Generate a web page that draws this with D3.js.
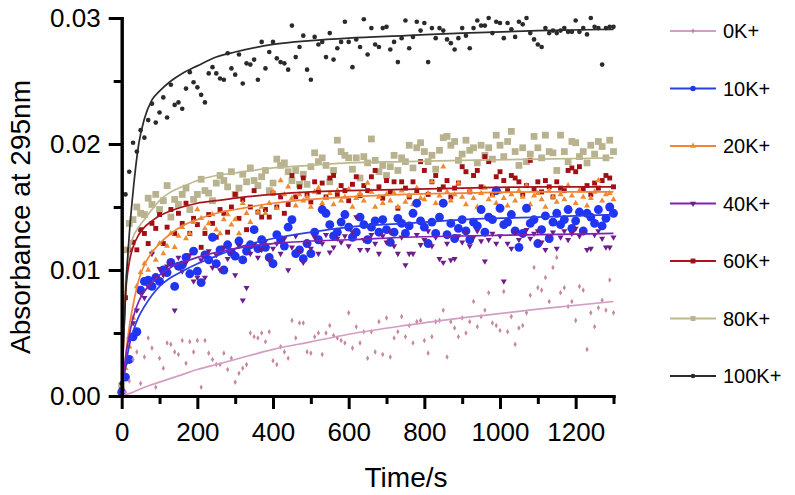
<!DOCTYPE html>
<html>
<head>
<meta charset="utf-8">
<script src="https://cdn.jsdelivr.net/npm/d3@7"></script>
<style>
  body { margin: 0; background: #fff; }
  text { font-family: "Liberation Sans", Arial, sans-serif; fill: #000; }
</style>
</head>
<body>
<svg id="chart" width="795" height="495"></svg>
<script>
// sampling times (s)
var times = [
  0, 10, 20, 30, 40, 50, 60, 70, 80, 90,
  100, 110, 120, 130, 140, 150, 160, 170, 180, 190,
  200, 210, 220, 230, 240, 250, 260, 270, 280, 290,
  300, 310, 320, 330, 340, 350, 360, 370, 380, 390,
  400, 410, 420, 430, 440, 450, 460, 470, 480, 490,
  500, 510, 520, 530, 540, 550, 560, 570, 580, 590,
  600, 610, 620, 630, 640, 650, 660, 670, 680, 690,
  700, 710, 720, 730, 740, 750, 760, 770, 780, 790,
  800, 810, 820, 830, 840, 850, 860, 870, 880, 890,
  900, 910, 920, 930, 940, 950, 960, 970, 980, 990,
  1000, 1010, 1020, 1030, 1040, 1050, 1060, 1070, 1080, 1090,
  1100, 1110, 1120, 1130, 1140, 1150, 1160, 1170, 1180, 1190,
  1200, 1210, 1220, 1230, 1240, 1250, 1260, 1270, 1280, 1290,
  1300
];

var abs0K = [
  0.0000, 0.0003, 0.0012, 0.0029, 0.0035, 0.0010, 0.0031, 0.0046, 0.0038, 0.0007,
  0.0030, 0.0022, 0.0042, 0.0041, 0.0035, 0.0033, 0.0044, 0.0026, 0.0043, 0.0035,
  0.0044, 0.0007, 0.0044, 0.0034, 0.0029, 0.0025, 0.0025, 0.0034, 0.0021, 0.0030,
  0.0011, 0.0018, 0.0022, 0.0025, 0.0050, 0.0047, 0.0046, 0.0050, 0.0043, 0.0051,
  0.0028, 0.0025, 0.0039, 0.0035, 0.0030, 0.0060, 0.0046, 0.0058, 0.0058, 0.0035,
  0.0034, 0.0047, 0.0050, 0.0033, 0.0050, 0.0056, 0.0048, 0.0046, 0.0044, 0.0042,
  0.0066, 0.0038, 0.0055, 0.0042, 0.0051, 0.0030, 0.0051, 0.0035, 0.0059, 0.0033,
  0.0062, 0.0031, 0.0046, 0.0051, 0.0063, 0.0047, 0.0056, 0.0042, 0.0059, 0.0060,
  0.0044, 0.0034, 0.0047, 0.0059, 0.0060, 0.0068, 0.0031, 0.0059, 0.0054, 0.0047,
  0.0062, 0.0050, 0.0059, 0.0075, 0.0055, 0.0063, 0.0068, 0.0082, 0.0058, 0.0056,
  0.0052, 0.0083, 0.0051, 0.0063, 0.0041, 0.0054, 0.0056, 0.0066, 0.0080, 0.0102,
  0.0086, 0.0084, 0.0094, 0.0075, 0.0102, 0.0110, 0.0082, 0.0086, 0.0071, 0.0075,
  0.0060, 0.0087, 0.0084, 0.0037, 0.0066, 0.0055, 0.0070, 0.0076, 0.0068, 0.0092,
  0.0066
];

var abs10K = [
  0.0003, 0.0015, 0.0029, 0.0047, 0.0051, 0.0084, 0.0091, 0.0092, 0.0087, 0.0094,
  0.0091, 0.0100, 0.0098, 0.0106, 0.0087, 0.0103, 0.0104, 0.0110, 0.0097, 0.0115,
  0.0099, 0.0090, 0.0112, 0.0108, 0.0126, 0.0105, 0.0116, 0.0100, 0.0120, 0.0114,
  0.0111, 0.0123, 0.0108, 0.0115, 0.0120, 0.0132, 0.0117, 0.0124, 0.0118, 0.0110,
  0.0105, 0.0128, 0.0124, 0.0119, 0.0134, 0.0140, 0.0113, 0.0116, 0.0109, 0.0121,
  0.0113, 0.0130, 0.0124, 0.0148, 0.0145, 0.0136, 0.0127, 0.0130, 0.0138, 0.0144,
  0.0134, 0.0126, 0.0130, 0.0142, 0.0136, 0.0124, 0.0134, 0.0139, 0.0130, 0.0140,
  0.0132, 0.0122, 0.0130, 0.0141, 0.0137, 0.0129, 0.0135, 0.0145, 0.0153, 0.0139,
  0.0134, 0.0121, 0.0138, 0.0129, 0.0142, 0.0153, 0.0128, 0.0137, 0.0125, 0.0133,
  0.0140, 0.0131, 0.0124, 0.0138, 0.0135, 0.0148, 0.0130, 0.0142, 0.0140, 0.0163,
  0.0149, 0.0136, 0.0138, 0.0144, 0.0131, 0.0118, 0.0129, 0.0149, 0.0137, 0.0140,
  0.0121, 0.0132, 0.0143, 0.0125, 0.0138, 0.0145, 0.0136, 0.0140, 0.0148, 0.0133,
  0.0139, 0.0146, 0.0131, 0.0145, 0.0142, 0.0137, 0.0148, 0.0135, 0.0141, 0.0150,
  0.0145
];

var abs20K = [
  0.0002, 0.0022, 0.0039, 0.0062, 0.0087, 0.0098, 0.0105, 0.0100, 0.0114, 0.0108,
  0.0121, 0.0113, 0.0119, 0.0129, 0.0118, 0.0127, 0.0134, 0.0125, 0.0129, 0.0138,
  0.0148, 0.0141, 0.0133, 0.0137, 0.0144, 0.0132, 0.0129, 0.0140, 0.0144, 0.0136,
  0.0140, 0.0129, 0.0153, 0.0145, 0.0138, 0.0132, 0.0146, 0.0150, 0.0145, 0.0153,
  0.0162, 0.0149, 0.0171, 0.0160, 0.0166, 0.0157, 0.0151, 0.0160, 0.0155, 0.0158,
  0.0150, 0.0162, 0.0165, 0.0153, 0.0157, 0.0161, 0.0152, 0.0163, 0.0155, 0.0158,
  0.0164, 0.0150, 0.0157, 0.0161, 0.0155, 0.0169, 0.0162, 0.0150, 0.0158, 0.0153,
  0.0160, 0.0155, 0.0161, 0.0150, 0.0163, 0.0154, 0.0159, 0.0152, 0.0165, 0.0157,
  0.0156, 0.0161, 0.0170, 0.0153, 0.0159, 0.0182, 0.0162, 0.0155, 0.0160, 0.0169,
  0.0158, 0.0152, 0.0163, 0.0157, 0.0150, 0.0161, 0.0165, 0.0156, 0.0159, 0.0153,
  0.0162, 0.0157, 0.0151, 0.0160, 0.0155, 0.0163, 0.0158, 0.0167, 0.0152, 0.0159,
  0.0161, 0.0156, 0.0150, 0.0163, 0.0158, 0.0154, 0.0160, 0.0156, 0.0167, 0.0159,
  0.0153, 0.0163, 0.0158, 0.0151, 0.0157, 0.0162, 0.0171, 0.0155, 0.0160, 0.0161,
  0.0156
];

var abs40K = [
  0.0002, 0.0025, 0.0045, 0.0058, 0.0068, 0.0082, 0.0078, 0.0087, 0.0113, 0.0094,
  0.0101, 0.0096, 0.0103, 0.0106, 0.0068, 0.0110, 0.0099, 0.0106, 0.0112, 0.0091,
  0.0094, 0.0108, 0.0094, 0.0115, 0.0102, 0.0112, 0.0100, 0.0118, 0.0109, 0.0114,
  0.0096, 0.0119, 0.0076, 0.0086, 0.0113, 0.0120, 0.0110, 0.0116, 0.0123, 0.0108,
  0.0117, 0.0121, 0.0113, 0.0125, 0.0100, 0.0118, 0.0127, 0.0115, 0.0106, 0.0122,
  0.0117, 0.0126, 0.0113, 0.0121, 0.0128, 0.0114, 0.0118, 0.0125, 0.0122, 0.0127,
  0.0119, 0.0130, 0.0142, 0.0116, 0.0124, 0.0116, 0.0128, 0.0121, 0.0113, 0.0127,
  0.0122, 0.0130, 0.0119, 0.0113, 0.0126, 0.0104, 0.0113, 0.0113, 0.0128, 0.0120,
  0.0124, 0.0131, 0.0119, 0.0126, 0.0109, 0.0106, 0.0121, 0.0108, 0.0109, 0.0127,
  0.0122, 0.0130, 0.0119, 0.0126, 0.0131, 0.0123, 0.0107, 0.0124, 0.0129, 0.0121,
  0.0127, 0.0091, 0.0121, 0.0117, 0.0130, 0.0124, 0.0128, 0.0132, 0.0125, 0.0129,
  0.0131, 0.0122, 0.0116, 0.0127, 0.0130, 0.0117, 0.0126, 0.0131, 0.0124, 0.0129,
  0.0133, 0.0127, 0.0130, 0.0116, 0.0117, 0.0128, 0.0131, 0.0125, 0.0118, 0.0118,
  0.0126
];

var abs60K = [
  0.0005, 0.0078, 0.0116, 0.0122, 0.0116, 0.0132, 0.0129, 0.0121, 0.0137, 0.0133,
  0.0144, 0.0121, 0.0134, 0.0148, 0.0129, 0.0145, 0.0137, 0.0153, 0.0129, 0.0141,
  0.0136, 0.0118, 0.0129, 0.0144, 0.0137, 0.0126, 0.0148, 0.0145, 0.0130, 0.0150,
  0.0160, 0.0141, 0.0156, 0.0132, 0.0150, 0.0163, 0.0146, 0.0142, 0.0148, 0.0142,
  0.0161, 0.0150, 0.0158, 0.0145, 0.0152, 0.0175, 0.0158, 0.0166, 0.0173, 0.0160,
  0.0154, 0.0170, 0.0162, 0.0169, 0.0158, 0.0173, 0.0175, 0.0160, 0.0167, 0.0163,
  0.0155, 0.0168, 0.0174, 0.0159, 0.0167, 0.0163, 0.0174, 0.0179, 0.0166, 0.0157,
  0.0171, 0.0162, 0.0170, 0.0149, 0.0170, 0.0165, 0.0158, 0.0170, 0.0163, 0.0186,
  0.0179, 0.0160, 0.0170, 0.0175, 0.0164, 0.0166, 0.0171, 0.0158, 0.0165, 0.0169,
  0.0182, 0.0178, 0.0162, 0.0175, 0.0179, 0.0166, 0.0190, 0.0186, 0.0160, 0.0174,
  0.0178, 0.0171, 0.0163, 0.0175, 0.0173, 0.0170, 0.0160, 0.0167, 0.0187, 0.0164,
  0.0170, 0.0162, 0.0171, 0.0166, 0.0158, 0.0170, 0.0165, 0.0163, 0.0179, 0.0181,
  0.0178, 0.0182, 0.0164, 0.0167, 0.0160, 0.0169, 0.0165, 0.0171, 0.0175, 0.0173,
  0.0166
];

var abs80K = [
  0.0008, 0.0116, 0.0137, 0.0140, 0.0150, 0.0145, 0.0144, 0.0157, 0.0152, 0.0160,
  0.0148, 0.0155, 0.0167, 0.0142, 0.0156, 0.0152, 0.0160, 0.0165, 0.0148, 0.0156,
  0.0160, 0.0172, 0.0163, 0.0161, 0.0155, 0.0169, 0.0175, 0.0171, 0.0166, 0.0178,
  0.0160, 0.0165, 0.0176, 0.0170, 0.0181, 0.0171, 0.0167, 0.0174, 0.0179, 0.0163,
  0.0169, 0.0188, 0.0183, 0.0185, 0.0178, 0.0171, 0.0179, 0.0168, 0.0176, 0.0168,
  0.0182, 0.0193, 0.0186, 0.0189, 0.0183, 0.0170, 0.0179, 0.0203, 0.0194, 0.0191,
  0.0189, 0.0180, 0.0189, 0.0173, 0.0190, 0.0185, 0.0204, 0.0187, 0.0178, 0.0183,
  0.0175, 0.0182, 0.0191, 0.0179, 0.0189, 0.0186, 0.0199, 0.0181, 0.0197, 0.0201,
  0.0194, 0.0186, 0.0191, 0.0180, 0.0195, 0.0205, 0.0206, 0.0199, 0.0202, 0.0187,
  0.0192, 0.0203, 0.0195, 0.0197, 0.0185, 0.0199, 0.0191, 0.0197, 0.0188, 0.0207,
  0.0199, 0.0190, 0.0202, 0.0210, 0.0194, 0.0183, 0.0197, 0.0186, 0.0192, 0.0206,
  0.0197, 0.0189, 0.0207, 0.0194, 0.0193, 0.0179, 0.0207, 0.0194, 0.0186, 0.0202,
  0.0201, 0.0190, 0.0194, 0.0185, 0.0199, 0.0192, 0.0202, 0.0198, 0.0189, 0.0203,
  0.0194
];

var abs100K = [
  0.0010, 0.0160, 0.0178, 0.0201, 0.0194, 0.0211, 0.0205, 0.0219, 0.0232, 0.0217,
  0.0225, 0.0237, 0.0221, 0.0247, 0.0231, 0.0233, 0.0228, 0.0244, 0.0257, 0.0249,
  0.0245, 0.0239, 0.0233, 0.0256, 0.0261, 0.0256, 0.0252, 0.0251, 0.0272, 0.0260,
  0.0255, 0.0271, 0.0248, 0.0264, 0.0263, 0.0267, 0.0251, 0.0281, 0.0260, 0.0273,
  0.0281, 0.0268, 0.0265, 0.0264, 0.0259, 0.0294, 0.0269, 0.0277, 0.0286, 0.0259,
  0.0251, 0.0285, 0.0279, 0.0281, 0.0269, 0.0288, 0.0267, 0.0276, 0.0281, 0.0297,
  0.0281, 0.0261, 0.0283, 0.0277, 0.0299, 0.0271, 0.0292, 0.0279, 0.0277, 0.0292,
  0.0293, 0.0275, 0.0281, 0.0265, 0.0284, 0.0298, 0.0276, 0.0285, 0.0297, 0.0290,
  0.0296, 0.0265, 0.0292, 0.0284, 0.0292, 0.0290, 0.0283, 0.0280, 0.0275, 0.0284,
  0.0292, 0.0286, 0.0276, 0.0292, 0.0298, 0.0294, 0.0294, 0.0300, 0.0288, 0.0297,
  0.0296, 0.0284, 0.0296, 0.0291, 0.0285, 0.0297, 0.0295, 0.0300, 0.0288, 0.0283,
  0.0279, 0.0277, 0.0292, 0.0288, 0.0290, 0.0288, 0.0290, 0.0292, 0.0289, 0.0289,
  0.0298, 0.0289, 0.0292, 0.0287, 0.0300, 0.0293, 0.0292, 0.0263, 0.0292, 0.0293,
  0.0293
];

// fitted curves at these times
var fitTimes = [0, 5, 10, 20, 30, 45, 60, 80, 100, 130, 160, 200, 250, 300, 400, 500, 600, 750, 900, 1100, 1300];
var fit0K   = [0, 0.00005, 0.0001, 0.0002, 0.0003, 0.0005, 0.0007, 0.0009, 0.0011, 0.0014, 0.0017, 0.0021, 0.0025, 0.0029, 0.0037, 0.0043, 0.0049, 0.0056, 0.0062, 0.0069, 0.0075];
var fit10K  = [0, 0.0012, 0.0023, 0.0040, 0.0051, 0.0063, 0.0071, 0.0080, 0.0087, 0.0094, 0.0099, 0.0105, 0.0111, 0.0117, 0.0125, 0.0130, 0.0134, 0.0137, 0.0140, 0.0142, 0.0144];
var fit20K  = [0, 0.0015, 0.0030, 0.0055, 0.0072, 0.0092, 0.0104, 0.0114, 0.0121, 0.0129, 0.0135, 0.0140, 0.0145, 0.0148, 0.0153, 0.0156, 0.0158, 0.0160, 0.0161, 0.0162, 0.0162];
var fit40K  = [0, 0.0016, 0.0030, 0.0048, 0.0062, 0.0075, 0.0083, 0.0090, 0.0096, 0.0102, 0.0106, 0.0110, 0.0114, 0.0117, 0.0121, 0.0123, 0.0124, 0.0126, 0.0127, 0.0128, 0.0129];
var fit60K  = [0, 0.0045, 0.0079, 0.0106, 0.0118, 0.0128, 0.0134, 0.0139, 0.0143, 0.0147, 0.0150, 0.0153, 0.0155, 0.0157, 0.0160, 0.0162, 0.0163, 0.0164, 0.0165, 0.0166, 0.0166];
var fit80K  = [0, 0.0050, 0.0090, 0.0115, 0.0126, 0.0134, 0.0140, 0.0148, 0.0155, 0.0162, 0.0166, 0.0171, 0.0175, 0.0177, 0.0181, 0.0183, 0.0185, 0.0186, 0.0187, 0.0188, 0.0189];
var fit100K = [0, 0.0045, 0.0080, 0.0128, 0.0162, 0.0200, 0.0220, 0.0235, 0.0242, 0.0250, 0.0256, 0.0262, 0.0269, 0.0273, 0.0279, 0.0282, 0.0284, 0.0286, 0.0288, 0.0290, 0.0291];

var seriesNames = ["0K+", "10K+", "20K+", "40K+", "60K+", "80K+", "100K+"];
var xTicks = [0, 200, 400, 600, 800, 1000, 1200];
var xMinorTicks = [100, 300, 500, 700, 900, 1100, 1300];
var yTicks = [0, 0.01, 0.02, 0.03];
var yMinorTicks = [0.005, 0.015, 0.025];

// look of each series
var series = [
    { name: seriesNames[0], values: abs0K,   fit: fit0K,   line: "#d39ec4", fill: "#c7889f", symbol: d3.symbolDiamond,  size: 9 },
    { name: seriesNames[1], values: abs10K,  fit: fit10K,  line: "#2a3fe6", fill: "#1f35f2", symbol: d3.symbolCircle,   size: 62 },
    { name: seriesNames[2], values: abs20K,  fit: fit20K,  line: "#f2843a", fill: "#f08a30", symbol: d3.symbolTriangle, size: 16 },
    { name: seriesNames[3], values: abs40K,  fit: fit40K,  line: "#7d22b2", fill: "#6e1c8c", symbol: d3.symbolTriangle, size: 16, flip: true },
    { name: seriesNames[4], values: abs60K,  fit: fit60K,  line: "#a8141c", fill: "#a10f14", symbol: d3.symbolSquare,   size: 24 },
    { name: seriesNames[5], values: abs80K,  fit: fit80K,  line: "#bdb890", fill: "#b8b28e", symbol: d3.symbolSquare,   size: 46 },
    { name: seriesNames[6], values: abs100K, fit: fit100K, line: "#2b2b2b", fill: "#2a2a2a", symbol: d3.symbolCircle,   size: 17 }
];
var drawOrder = [5, 4, 2, 1, 3, 0, 6];

var svg = d3.select("#chart");

var x = d3.scaleLinear().domain([0, 1300]).range([121.7, 613.5]);
var y = d3.scaleLinear().domain([0, 0.03]).range([396, 18]);

// points
drawOrder.forEach(function (i) {
    var s = series[i],
        sym = d3.symbol().type(s.symbol).size(s.size);
    svg.append("g")
        .attr("class", "points")
        .selectAll("path")
        .data(s.values.map(function (v, k) { return [times[k], v]; }))
        .enter().append("path")
        .attr("d", sym)
        .attr("transform", function (d) {
            return "translate(" + x(d[0]) + "," + y(d[1]) + ")" + (s.flip ? " rotate(180)" : "");
        })
        .attr("fill", s.fill);
});

// fitted curves
var fitLine = d3.line()
    .x(function (d) { return x(d[0]); })
    .y(function (d) { return y(d[1]); })
    .curve(d3.curveMonotoneX);

drawOrder.forEach(function (i) {
    var s = series[i];
    svg.append("path")
        .datum(s.fit.map(function (v, k) { return [fitTimes[k], v]; }))
        .attr("d", fitLine)
        .attr("fill", "none")
        .attr("stroke", s.line)
        .attr("stroke-width", 1.7);
});

// axes
function styleAxis(g) {
    g.select(".domain").attr("stroke", "#000").attr("stroke-width", 3).attr("stroke-linecap", "square");
    g.selectAll(".tick line").attr("stroke", "#000").attr("stroke-width", 3);
    g.selectAll(".tick text").style("font-size", "26px").attr("fill", "#000");
}

svg.append("g")
    .attr("transform", "translate(0,396)")
    .call(d3.axisBottom(x).tickValues(xMinorTicks).tickSize(8).tickSizeOuter(0).tickFormat(""))
    .call(styleAxis);
svg.append("g")
    .attr("transform", "translate(0,396)")
    .call(d3.axisBottom(x).tickValues(xTicks).tickSize(13).tickSizeOuter(0).tickPadding(14).tickFormat(d3.format("d")))
    .call(styleAxis);

svg.append("g")
    .attr("transform", "translate(121.7,0)")
    .call(d3.axisLeft(y).tickValues(yMinorTicks).tickSize(8).tickSizeOuter(0).tickFormat(""))
    .call(styleAxis);
svg.append("g")
    .attr("transform", "translate(121.7,0)")
    .call(d3.axisLeft(y).tickValues(yTicks).tickSize(13).tickSizeOuter(0).tickPadding(8).tickFormat(d3.format(".2f")))
    .call(styleAxis);

// axis titles
svg.append("text")
    .attr("transform", "translate(30,217) rotate(-90)")
    .attr("text-anchor", "middle")
    .style("font-size", "28px")
    .text("Absorbance at 295nm");

svg.append("text")
    .attr("x", 406)
    .attr("y", 487)
    .attr("text-anchor", "middle")
    .style("font-size", "28px")
    .text("Time/s");

// legend
var legend = svg.append("g").attr("class", "legend");
series.forEach(function (s, i) {
    var ly = 31 + i * 57.5,
        row = legend.append("g").attr("transform", "translate(0," + ly + ")");
    row.append("line")
        .attr("x1", 670).attr("x2", 716)
        .attr("stroke", s.line)
        .attr("stroke-width", 2);
    row.append("path")
        .attr("d", d3.symbol().type(s.symbol).size(Math.min(s.size, 24)))
        .attr("transform", "translate(693,0)" + (s.flip ? " rotate(180)" : ""))
        .attr("fill", s.fill);
    row.append("text")
        .attr("x", 723)
        .attr("dy", "0.36em")
        .style("font-size", "20px")
        .text(s.name);
});
</script>
</body>
</html>
